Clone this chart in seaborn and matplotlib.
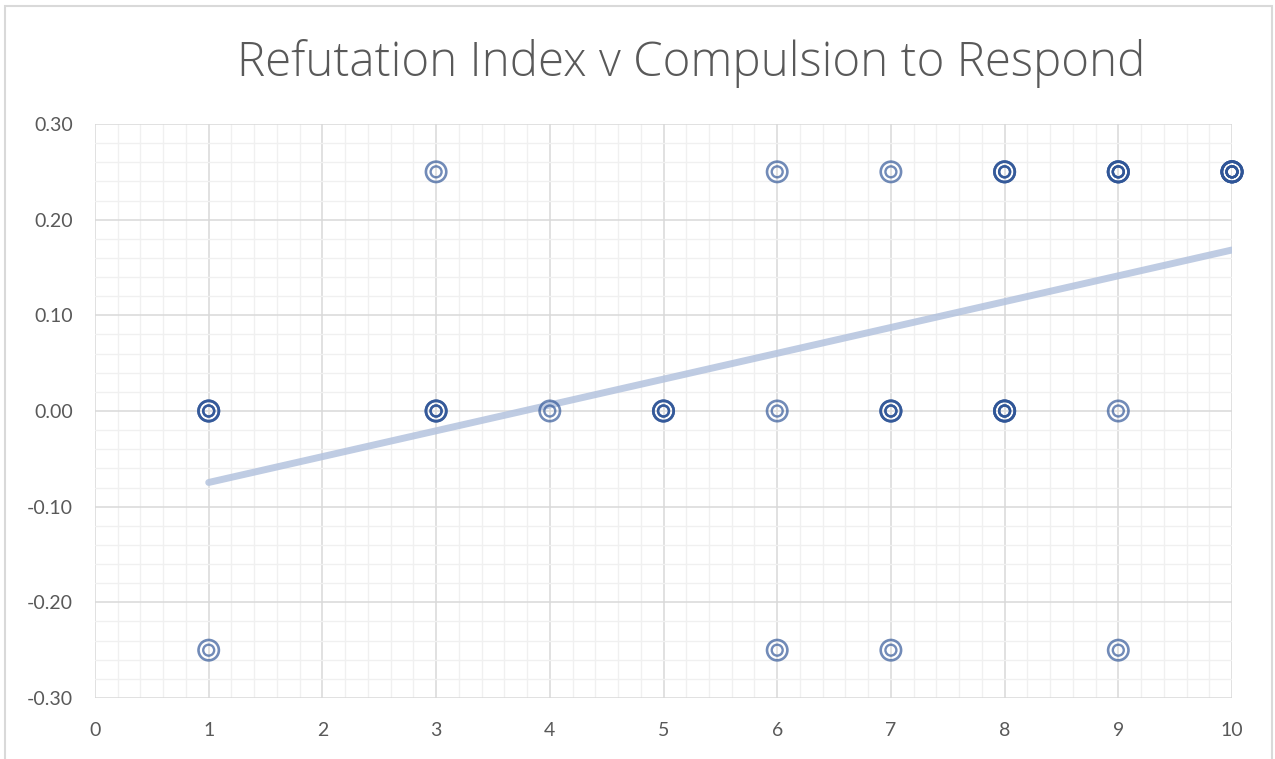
import numpy as np
import pandas as pd
import matplotlib
matplotlib.use("Agg")
import matplotlib.pyplot as plt
from matplotlib.ticker import MultipleLocator, FormatStrFormatter
from matplotlib.patches import Rectangle
import seaborn as sns

# Observations: compulsion score, refutation index, and how many respondents share that pair
compulsion = [1, 1, 3, 3, 4, 5, 6, 6, 6, 7, 7, 7, 8, 8, 9, 9, 9, 10]
refutation = [0.00, -0.25, 0.25, 0.00, 0.00, 0.00, 0.25, 0.00, -0.25,
              0.25, 0.00, -0.25, 0.25, 0.00, 0.25, 0.00, -0.25, 0.25]
respondents = [3, 1, 1, 3, 1, 3, 1, 1, 1, 1, 3, 1, 3, 4, 4, 1, 1, 6]

title = "Refutation Index v Compulsion to Respond"

rows = [(x, y) for x, y, n in zip(compulsion, refutation, respondents) for _ in range(n)]
df = pd.DataFrame(rows, columns=["compulsion", "refutation"])

sns.set_theme(style="white")
plt.rcParams["font.family"] = ["Lato", "DejaVu Sans"]
plt.rcParams["axes.unicode_minus"] = False

W, H = 1275, 759
fig = plt.figure(figsize=(W / 100, H / 100), dpi=100)
ax = fig.add_axes([95 / W, 1 - 698 / H, (1232 - 95) / W, (698 - 124) / H])

# chart frame
fig.patches.append(Rectangle((5 / W, -0.05), (1272 - 5) / W, 1 - 6 / H + 0.05,
                             transform=fig.transFigure, fill=False,
                             edgecolor="#d9d9d9", linewidth=1.5, zorder=0))

marker_color = "#2f5597"
# outer ring
sns.scatterplot(data=df, x="compulsion", y="refutation", ax=ax, marker="o",
                s=215, facecolors="none", edgecolor=marker_color, linewidth=1.9,
                alpha=0.68, zorder=4, clip_on=False)
# inner ring
sns.scatterplot(data=df, x="compulsion", y="refutation", ax=ax, marker="o",
                s=62, facecolors="none", edgecolor=marker_color, linewidth=1.7,
                alpha=0.68, zorder=4, clip_on=False)

# linear trend line
sns.regplot(data=df, x="compulsion", y="refutation", ax=ax, scatter=False,
            ci=None, line_kws=dict(color="#b4c3de", linewidth=5.0, alpha=0.85,
                                   solid_capstyle="round", zorder=3))

ax.set_xlim(0, 10)
ax.set_ylim(-0.30, 0.30)
ax.xaxis.set_major_locator(MultipleLocator(1))
ax.xaxis.set_minor_locator(MultipleLocator(0.2))
ax.yaxis.set_major_locator(MultipleLocator(0.10))
ax.yaxis.set_minor_locator(MultipleLocator(0.02))
ax.yaxis.set_major_formatter(FormatStrFormatter("%.2f"))

ax.grid(which="minor", color="#f0f0f0", linewidth=1.0, zorder=0)
ax.grid(which="major", color="#d9d9d9", linewidth=1.1, zorder=1)
ax.set_axisbelow(True)
for s in ax.spines.values():
    s.set_visible(False)

ax.tick_params(which="both", length=0)
ax.tick_params(axis="y", pad=16, labelsize=14, labelcolor="#595959")
ax.tick_params(axis="x", pad=17, labelsize=14, labelcolor="#595959")
ax.set_xlabel("")
ax.set_ylabel("")

fig.text(691 / W, 1 - 63 / H, title, ha="center", va="center",
         fontsize=34.2, color="#595959", fontweight="light",
         family=["Open Sans", "DejaVu Sans"])

fig.savefig("out.png", dpi=100, facecolor="white")
